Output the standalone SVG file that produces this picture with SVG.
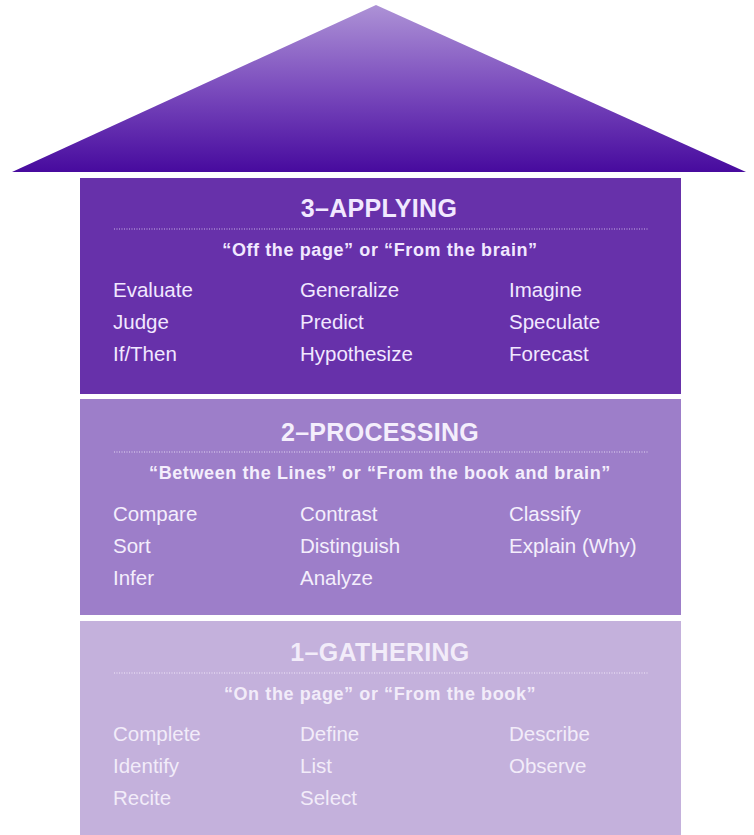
<svg xmlns="http://www.w3.org/2000/svg" width="754" height="835" viewBox="0 0 754 835">
<defs>
<linearGradient id="roofGrad" x1="0" y1="0" x2="0" y2="1">
<stop offset="0" stop-color="#ad92d6"/>
<stop offset="0.5" stop-color="#7b4cbd"/>
<stop offset="1" stop-color="#470a9e"/>
</linearGradient>
<style>
.title{font-family:"Liberation Sans",Arial,sans-serif;font-weight:bold;font-size:25px;text-anchor:middle;letter-spacing:0.3px}
.sub{font-family:"Liberation Sans",Arial,sans-serif;font-weight:bold;font-size:18px;text-anchor:middle;letter-spacing:0.6px}
.item{font-family:"Liberation Sans",Arial,sans-serif;font-size:20.5px}
.dots{stroke-width:1.2;stroke-dasharray:1 1.5;fill:none}
</style>
</defs>
<rect width="754" height="835" fill="#ffffff"/>
<g id="roof">
<polygon points="376,5 746,172 12,172" fill="url(#roofGrad)"/>
</g>
<g id="level3" fill="#f1e8ff">
<rect x="80" y="178" width="601" height="216" fill="#6731aa"/>
<text class="title" x="379" y="217">3–APPLYING</text>
<line class="dots" x1="114" y1="229" x2="648" y2="229" stroke="#c9b6e8"/>
<text class="sub" x="380" y="256">“Off the page” or “From the brain”</text>
<text class="item" x="113" y="297">Evaluate</text>
<text class="item" x="300" y="297">Generalize</text>
<text class="item" x="509" y="297">Imagine</text>
<text class="item" x="113" y="329">Judge</text>
<text class="item" x="300" y="329">Predict</text>
<text class="item" x="509" y="329">Speculate</text>
<text class="item" x="113" y="361">If/Then</text>
<text class="item" x="300" y="361">Hypothesize</text>
<text class="item" x="509" y="361">Forecast</text>
</g>
<g id="level2" fill="#f4eefc">
<rect x="80" y="399" width="601" height="216" fill="#9d7ec9"/>
<text class="title" x="380" y="441">2–PROCESSING</text>
<line class="dots" x1="114" y1="452" x2="648" y2="452" stroke="#e2d6f2"/>
<text class="sub" x="380" y="479">“Between the Lines” or “From the book and brain”</text>
<text class="item" x="113" y="521">Compare</text>
<text class="item" x="300" y="521">Contrast</text>
<text class="item" x="509" y="521">Classify</text>
<text class="item" x="113" y="553">Sort</text>
<text class="item" x="300" y="553">Distinguish</text>
<text class="item" x="509" y="553">Explain (Why)</text>
<text class="item" x="113" y="585">Infer</text>
<text class="item" x="300" y="585">Analyze</text>
</g>
<g id="level1" fill="#f2ecf9">
<rect x="80" y="621" width="601" height="214" fill="#c4b1dc"/>
<text class="title" x="380" y="661">1–GATHERING</text>
<line class="dots" x1="114" y1="673" x2="648" y2="673" stroke="#efe8f7"/>
<text class="sub" x="380" y="700">“On the page” or “From the book”</text>
<text class="item" x="113" y="741">Complete</text>
<text class="item" x="300" y="741">Define</text>
<text class="item" x="509" y="741">Describe</text>
<text class="item" x="113" y="773">Identify</text>
<text class="item" x="300" y="773">List</text>
<text class="item" x="509" y="773">Observe</text>
<text class="item" x="113" y="805">Recite</text>
<text class="item" x="300" y="805">Select</text>
</g>
<g id="connectors"></g>
</svg>
